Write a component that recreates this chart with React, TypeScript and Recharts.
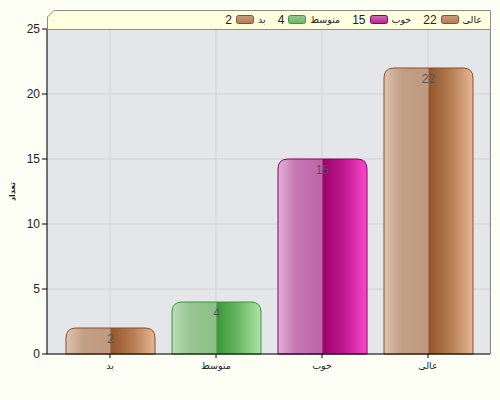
import React from "react";
import {
  BarChart,
  Bar,
  XAxis,
  YAxis,
  CartesianGrid,
  LabelList,
} from "recharts";

const categories = ["بد", "متوسط", "خوب", "عالی"];
const counts = [2, 4, 15, 22];
const yTicks = [0, 5, 10, 15, 20, 25];
const axisTitle = "تعداد";

// left half / right half gradient stops + outline per bar
const PALETTE = [
  {
    left: ["#DCC4B4", "#C29E84", "#BF9A80"],
    right: ["#93552A", "#B57C55", "#E6B892"],
    stroke: "#8A5028",
  },
  {
    left: ["#BCDDB6", "#98C592", "#8EBF88"],
    right: ["#3A973A", "#6AB866", "#AEE4A6"],
    stroke: "#3C963C",
  },
  {
    left: ["#E0B0D6", "#C578B4", "#BA66A6"],
    right: ["#9A006A", "#C21A92", "#F848C8"],
    stroke: "#880060",
  },
  {
    left: ["#DCC4B4", "#C29E84", "#BF9A80"],
    right: ["#93552A", "#B57C55", "#E6B892"],
    stroke: "#8A5028",
  },
];

const FONT = "'Liberation Sans', 'DejaVu Sans', sans-serif";
const AR_FONT = "'DejaVu Sans', sans-serif";

const data = categories.map((name, i) => ({ name, value: counts[i] }));

const GlossBar = (props: any) => {
  const { x, y, width: w, height: h, index } = props;
  if (!h || h <= 0) return null;
  const c = PALETTE[index % PALETTE.length];
  const r = Math.min(10, h, w / 2);
  const cx = x + w / 2;
  const full = `M${x},${y + h} L${x},${y + r} Q${x},${y} ${x + r},${y} L${x + w - r},${y} Q${x + w},${y} ${x + w},${y + r} L${x + w},${y + h} Z`;
  const rightHalf = `M${cx},${y + h} L${cx},${y} L${x + w - r},${y} Q${x + w},${y} ${x + w},${y + r} L${x + w},${y + h} Z`;
  const lid = `bar-l-${index}`;
  const rid = `bar-r-${index}`;
  return (
    <g>
      <defs>
        <linearGradient id={lid} gradientUnits="userSpaceOnUse" x1={x} y1={0} x2={cx} y2={0}>
          <stop offset="0" stopColor={c.left[0]} />
          <stop offset="0.4" stopColor={c.left[1]} />
          <stop offset="1" stopColor={c.left[2]} />
        </linearGradient>
        <linearGradient id={rid} gradientUnits="userSpaceOnUse" x1={cx} y1={0} x2={x + w} y2={0}>
          <stop offset="0" stopColor={c.right[0]} />
          <stop offset="0.5" stopColor={c.right[1]} />
          <stop offset="1" stopColor={c.right[2]} />
        </linearGradient>
      </defs>
      <path d={full} fill={`url(#${lid})`} />
      <path d={rightHalf} fill={`url(#${rid})`} />
      <path d={full} fill="none" stroke={c.stroke} strokeWidth={1} />
    </g>
  );
};

const Swatch = ({ i }: { i: number }) => {
  const c = PALETTE[i];
  return (
    <svg width={18} height={9} style={{ display: "block" }}>
      <defs>
        <linearGradient id={`sw-${i}`} x1="0" y1="0" x2="0" y2="1">
          <stop offset="0" stopColor={c.left[1]} />
          <stop offset="1" stopColor={c.right[1]} />
        </linearGradient>
      </defs>
      <rect x={0.5} y={0.5} width={17} height={8} rx={2} fill={`url(#sw-${i})`} stroke={c.stroke} />
    </svg>
  );
};

const LegendBox = () => {
  const order = categories.map((_, i) => i).reverse();
  return (
    <div style={{ position: "absolute", left: 47, top: 10, width: 444, height: 20 }}>
      <svg width={444} height={20} style={{ position: "absolute", left: 0, top: 0 }}>
        <polygon
          points="0.5,19.5 0.5,7 7,0.5 443.5,0.5 443.5,19.5"
          fill="#FFFFDD"
          stroke="#8C8C8C"
        />
      </svg>
      <div
        style={{
          position: "absolute",
          right: 9,
          top: 0,
          height: 19,
          display: "flex",
          flexDirection: "row-reverse",
          alignItems: "center",
          fontFamily: FONT,
          color: "#222",
        }}
      >
        {order.map((i) => (
          <div
            key={i}
            style={{ display: "flex", flexDirection: "row-reverse", alignItems: "center", marginLeft: 12 }}
          >
            <span style={{ fontSize: 9.5, fontFamily: AR_FONT }}>{categories[i]}</span>
            <span style={{ margin: "0 4px" }}>
              <Swatch i={i} />
            </span>
            <span style={{ fontSize: 12 }}>{counts[i]}</span>
          </div>
        ))}
      </div>
    </div>
  );
};

const AxisTitle = (props: any) => {
  const vb = props.viewBox || {};
  const cy = vb.y + vb.height / 2;
  return (
    <text
      x={12}
      y={cy}
      transform={`rotate(-90 12 ${cy})`}
      textAnchor="middle"
      dominantBaseline="middle"
      fontSize={8}
      fontWeight="bold"
      fontFamily={AR_FONT}
      fill="#222"
    >
      {axisTitle}
    </text>
  );
};

export default function App() {
  return (
    <div
      style={{
        position: "absolute",
        left: 0,
        top: 0,
        width: 500,
        height: 400,
        background: "#FDFFF4",
      }}
    >
      <BarChart
        width={500}
        height={400}
        data={data}
        margin={{ top: 29, right: 10, left: 0, bottom: 16 }}
        barSize={89}
      >
        <CartesianGrid stroke="#D2D3D6" fill="#E4E6EA" />
        <XAxis
          dataKey="name"
          height={30}
          stroke="#000"
          tickSize={4}
          padding={{ left: 10, right: 9 }}
          tick={{ fill: "#222", fontSize: 9.5, fontFamily: AR_FONT, dy: 2 }}
        />
        <YAxis
          width={47}
          domain={[0, 25]}
          ticks={yTicks}
          stroke="#000"
          tickSize={5}
          tick={{ fill: "#222", fontSize: 12, fontFamily: FONT }}
          label={<AxisTitle />}
        />
        <Bar dataKey="value" shape={<GlossBar />} isAnimationActive={false}>
          <LabelList
            dataKey="value"
            position="insideTop"
            offset={6}
            fill="#555"
            fontSize={12}
            fontFamily={FONT}
          />
        </Bar>
      </BarChart>
      <svg width={500} height={400} style={{ position: "absolute", left: 0, top: 0, pointerEvents: "none" }}>
        <line x1={490.5} y1={29} x2={490.5} y2={354} stroke="#8C8C8C" />
      </svg>
      <LegendBox />
    </div>
  );
}
